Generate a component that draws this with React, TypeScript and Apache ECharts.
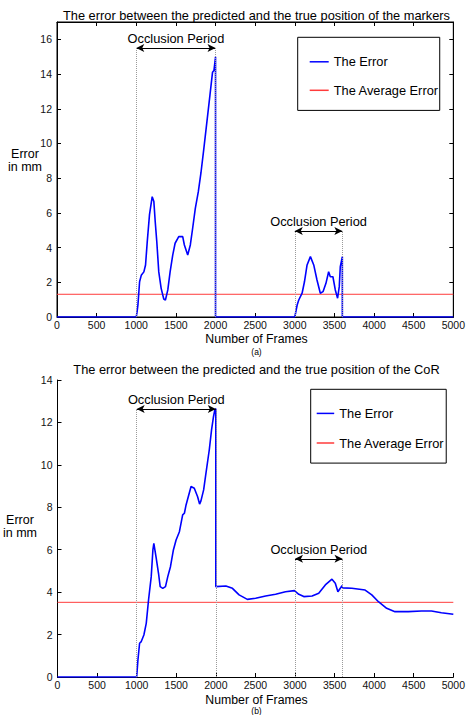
import React, { useEffect, useRef } from "react";
import * as echarts from "echarts";

const FONT = "'Liberation Sans', Arial, Helvetica, sans-serif";

// (a) markers
const framesA = [0, 1000, 1010, 1021, 1042, 1063, 1096, 1117, 1138, 1167, 1201, 1222, 1239, 1259, 1284, 1314, 1347, 1368, 1398, 1427, 1460, 1490, 1536, 1586, 1607, 1649, 1682, 1711, 1745, 1783, 1816, 1850, 1890, 1930, 1962, 1980, 1998, 2000, 2000, 3000, 3030, 3050, 3092, 3122, 3155, 3197, 3239, 3280, 3322, 3356, 3393, 3427, 3448, 3481, 3511, 3540, 3561, 3574, 3600, 3600, 5000];
const errorA = [0, 0, 0.3, 0.7, 2.03, 2.4, 2.6, 3.0, 4.3, 5.9, 6.93, 6.65, 5.5, 4.34, 2.6, 1.65, 1.04, 0.98, 1.56, 2.6, 3.57, 4.25, 4.63, 4.63, 4.15, 3.57, 4.15, 5.1, 6.26, 7.22, 8.3, 9.6, 11.2, 12.8, 14.1, 14.2, 14.9, 15.0, 0, 0, 0.69, 0.98, 1.37, 2.03, 3.0, 3.48, 3.0, 2.13, 1.37, 1.46, 1.94, 2.61, 2.32, 2.32, 1.56, 1.08, 1.75, 2.9, 3.48, 0, 0];
const averageA = 1.31;
const arrowLevelA = [15.5, 4.96];

// (b) CoR
const framesB = [0, 1000, 1016, 1037, 1058, 1091, 1121, 1150, 1184, 1205, 1217, 1247, 1276, 1297, 1330, 1364, 1393, 1427, 1464, 1498, 1540, 1581, 1603, 1624, 1687, 1728, 1770, 1795, 1812, 1846, 1875, 1917, 1946, 1971, 1988, 2000, 2000, 2127, 2210, 2294, 2398, 2503, 2629, 2755, 2880, 2993, 3048, 3111, 3216, 3300, 3383, 3467, 3509, 3542, 3572, 3593, 3600, 3718, 3886, 3970, 4054, 4158, 4263, 4431, 4598, 4724, 4849, 5000];
const errorB = [0, 0, 0.8, 1.59, 1.67, 1.98, 2.53, 3.63, 4.73, 5.99, 6.3, 5.6, 4.89, 4.26, 4.18, 4.26, 4.73, 5.2, 5.99, 6.46, 6.85, 7.64, 7.72, 8.11, 8.98, 8.9, 8.5, 8.15, 8.3, 8.82, 9.6, 10.7, 11.65, 12.28, 12.6, 12.65, 4.26, 4.29, 4.18, 3.87, 3.66, 3.71, 3.82, 3.9, 4.02, 4.07, 3.9, 3.79, 3.82, 3.95, 4.34, 4.61, 4.42, 4.02, 4.18, 4.3, 4.2, 4.18, 4.1, 3.87, 3.55, 3.24, 3.08, 3.08, 3.11, 3.11, 3.03, 2.96];
const averageB = 3.52;
const arrowLevelB = [12.63, 5.57];

const occlusionStart = [1000, 3000];
const occlusionEnd = [2000, 3600];
const frameRange = [0, 5000];
const frameInterval = 500;
const yMaxA = 17;
const yMaxB = 14;
const yInterval = 2;

const legendNames = ["The Error", "The Average Error"];

function pairs(xs: number[], ys: number[]) {
  return xs.map((x, i) => [x, ys[i]]);
}

function arrowLines(levels: number[]) {
  return occlusionStart.map((s, i) => [
    { coord: [s, levels[i]] },
    { coord: [occlusionEnd[i], levels[i]] },
  ]);
}

function dottedLines(levels: number[]) {
  const out: any[] = [];
  occlusionStart.forEach((s, i) => {
    out.push([{ coord: [s, 0] }, { coord: [s, levels[i]] }]);
    out.push([{ coord: [occlusionEnd[i], 0] }, { coord: [occlusionEnd[i], levels[i]] }]);
  });
  return out;
}

const axisText = { color: "#111", fontSize: 10.5, fontFamily: FONT, formatter: (v: number) => String(v) };

function xAxisCfg(gridIndex: number, pos: string, labels: boolean) {
  return {
    type: "value",
    gridIndex,
    position: pos,
    min: frameRange[0],
    max: frameRange[1],
    interval: frameInterval,
    axisLine: { show: true, onZero: false, lineStyle: { color: "#000", width: 1 } },
    axisTick: { show: true, inside: true, length: 4, lineStyle: { color: "#000" } },
    axisLabel: { show: labels, margin: 2.5, ...axisText },
    splitLine: { show: false },
  };
}

function yAxisCfg(gridIndex: number, pos: string, labels: boolean, max: number) {
  return {
    type: "value",
    gridIndex,
    position: pos,
    min: 0,
    max,
    interval: yInterval,
    axisLine: { show: true, onZero: false, lineStyle: { color: "#000", width: 1 } },
    axisTick: { show: true, inside: true, length: 4, lineStyle: { color: "#000" } },
    axisLabel: { show: labels, margin: 5, showMaxLabel: max % yInterval === 0, ...axisText },
    splitLine: { show: false },
  };
}

function errorSeries(name: string, xi: number, yi: number, data: number[][], levels: number[]) {
  return {
    name,
    type: "line",
    xAxisIndex: xi,
    yAxisIndex: yi,
    data,
    symbol: "none",
    z: 3,
    lineStyle: { color: "#0000ff", width: 1.6 },
    itemStyle: { color: "#0000ff" },
    markLine: {
      silent: true,
      symbol: ["arrow", "arrow"],
      symbolSize: [6, 8],
      lineStyle: { color: "#000", width: 1, type: "solid" },
      label: {
        show: true,
        position: "insideMiddleTop",
        distance: 3,
        formatter: "Occlusion Period",
        color: "#000",
        fontSize: 12.8,
        fontFamily: FONT,
      },
      data: arrowLines(levels),
    },
  };
}

function averageSeries(name: string, xi: number, yi: number, avg: number, levels: number[]) {
  return {
    name,
    type: "line",
    xAxisIndex: xi,
    yAxisIndex: yi,
    data: frameRange.map((f) => [f, avg]),
    symbol: "none",
    z: 2,
    lineStyle: { color: "#ff3b3b", width: 1 },
    itemStyle: { color: "#ff3b3b" },
    markLine: {
      silent: true,
      symbol: "none",
      lineStyle: { color: "#9a9a9a", width: 1, type: "dotted" },
      label: { show: false },
      data: dottedLines(levels),
    },
  };
}

function txt(text: string, x: number, y: number, fontSize: number) {
  return {
    type: "text",
    x,
    y,
    silent: true,
    style: {
      text,
      fill: "#000",
      fontSize,
      fontFamily: FONT,
      align: "center",
      verticalAlign: "middle",
    },
  };
}

function legendCfg(left: number, top: number, padding: number[], gap: number, w: number) {
  return {
    left,
    top,
    orient: "vertical",
    data: legendNames,
    icon: `path://M0,0H${w}V1.5H0Z`,
    backgroundColor: "#fff",
    borderColor: "#000",
    borderWidth: 1,
    borderRadius: 0,
    padding,
    itemGap: gap,
    itemWidth: w,
    itemHeight: 12,
    selectedMode: false,
    textStyle: { fontSize: 12.8, color: "#000", fontFamily: FONT },
  };
}

export default function App() {
  const ref = useRef<HTMLDivElement>(null);
  useEffect(() => {
    if (!ref.current) return;
    const chart = echarts.init(ref.current, null, { renderer: "svg" });
    chart.setOption({
      animation: false,
      backgroundColor: "#fff",
      textStyle: { fontFamily: FONT },
      grid: [
        { left: 57, top: 22, width: 399, height: 295, show: true, borderColor: "#000", borderWidth: 1, backgroundColor: "transparent" },
        { left: 57.5, top: 380, width: 398, height: 297, show: false },
      ],
      xAxis: [xAxisCfg(0, "bottom", true), xAxisCfg(0, "top", false), xAxisCfg(1, "bottom", true)],
      yAxis: [yAxisCfg(0, "left", true, yMaxA), yAxisCfg(0, "right", false, yMaxA), yAxisCfg(1, "left", true, yMaxB)],
      legend: [
        legendCfg(297.7, 37.3, [18, 1, 13.6, 12], 15.5, 19),
        legendCfg(310.7, 389.3, [17.6, 2, 13.6, 6], 16.6, 17.5),
      ],
      series: [
        errorSeries(legendNames[0], 0, 0, pairs(framesA, errorA), arrowLevelA),
        averageSeries(legendNames[1], 0, 0, averageA, arrowLevelA),
        errorSeries(legendNames[0], 2, 2, pairs(framesB, errorB), arrowLevelB),
        averageSeries(legendNames[1], 2, 2, averageB, arrowLevelB),
      ],
      graphic: [
        txt("The error between the predicted and the true position of the markers", 256.5, 15.7, 12.8),
        txt("Number of Frames", 256.5, 339, 12.3),
        txt("(a)", 256.5, 351.5, 8.5),
        txt("Error", 25, 154, 12.5),
        txt("in mm", 25, 167.3, 12.5),
        txt("The error between the predicted and the true position of the CoR", 256.5, 369, 12.8),
        txt("Number of Frames", 256.5, 699.5, 12.3),
        txt("(b)", 256.5, 710.5, 8.5),
        txt("Error", 20, 520, 12.5),
        txt("in mm", 20, 533.3, 12.5),
      ],
    });
    return () => chart.dispose();
  }, []);
  return (
    <div
      ref={ref}
      style={{ position: "absolute", left: 0, top: 0, width: 468, height: 715, background: "#fff" }}
    />
  );
}
